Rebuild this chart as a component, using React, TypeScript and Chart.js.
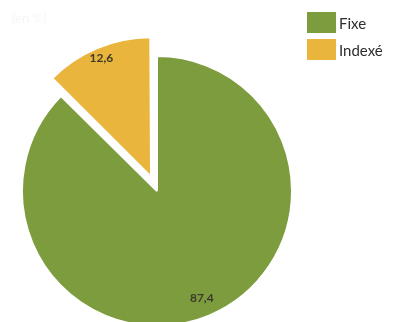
import React, { useEffect, useRef } from "react";
import { Chart, registerables } from "chart.js";

Chart.register(...registerables);

const categories = ["Indexé", "Fixe"];
const values = [12.6, 87.4];
const valueLabels = ["12,6", "87,4"];
const colors = ["#EAB53C", "#7D9C3D"];
const offsets = [62, 0];
const legendOrder = [1, 0];

const labelPlugin = {
  id: "sliceLabels",
  afterDatasetsDraw(chart: any) {
    const ctx = chart.ctx;
    const meta = chart.getDatasetMeta(0);
    const factors = [1.07, 0.86];
    ctx.save();
    ctx.font = "bold 12px Lato, 'DejaVu Sans', sans-serif";
    ctx.fillStyle = "#3b3a2c";
    ctx.textAlign = "center";
    ctx.textBaseline = "middle";
    meta.data.forEach((arc: any, i: number) => {
      const p = arc.getProps(["x", "y", "startAngle", "endAngle", "outerRadius"], true);
      const mid = (p.startAngle + p.endAngle) / 2;
      const r = p.outerRadius * factors[i];
      ctx.fillText(valueLabels[i], p.x + Math.cos(mid) * r, p.y + Math.sin(mid) * r);
    });
    ctx.restore();
  },
};

export default function App() {
  const ref = useRef<HTMLCanvasElement>(null);
  useEffect(() => {
    if (!ref.current) return;
    const chart = new Chart(ref.current, {
      type: "pie",
      data: {
        labels: categories,
        datasets: [
          {
            data: values,
            backgroundColor: colors,
            borderColor: "#ffffff",
            borderWidth: 2,
            offset: offsets,
            clip: false,
          } as any,
        ],
      },
      options: {
        animation: false,
        responsive: false,
        rotation: -45.36,
        radius: 135,
        layout: { padding: { left: 0, right: 84, top: 60, bottom: 0 } },
        plugins: { legend: { display: false }, tooltip: { enabled: false } },
      } as any,
      plugins: [labelPlugin],
    });
    return () => chart.destroy();
  }, []);

  return (
    <div style={{ position: "fixed", left: 0, top: 0, width: 398, height: 322, background: "#fff", overflow: "hidden" }}>
      <canvas ref={ref} width={398} height={322} style={{ position: "absolute", left: 0, top: 0 }} />
      <div style={{ position: "absolute", left: 12, top: 10, font: "13px Lato, sans-serif", color: "#f6f6f6" }}>(en %)</div>
      {legendOrder.map((idx, k) => (
        <div
          key={categories[idx]}
          style={{
            position: "absolute",
            left: 307,
            top: 12 + k * 27,
            display: "flex",
            alignItems: "center",
            font: "15px Lato, 'DejaVu Sans', sans-serif",
            color: "#2e2e2e",
            height: 21,
          }}
        >
          <span style={{ display: "inline-block", width: 29, height: 21, background: colors[idx], marginRight: 3 }} />
          <span>{categories[idx]}</span>
        </div>
      ))}
    </div>
  );
}
